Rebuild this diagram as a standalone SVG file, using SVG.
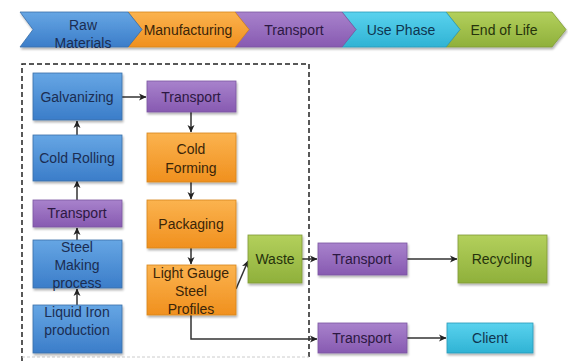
<svg xmlns="http://www.w3.org/2000/svg" width="568" height="362" viewBox="0 0 568 362">
<defs>
<linearGradient id="gBlue" x1="0" y1="0" x2="0" y2="1"><stop offset="0" stop-color="#66a6e4"/><stop offset="1" stop-color="#3b7dc9"/></linearGradient>
<linearGradient id="gOrange" x1="0" y1="0" x2="0" y2="1"><stop offset="0" stop-color="#fbb34f"/><stop offset="1" stop-color="#f0901e"/></linearGradient>
<linearGradient id="gPurple" x1="0" y1="0" x2="0" y2="1"><stop offset="0" stop-color="#a882cc"/><stop offset="1" stop-color="#875ab1"/></linearGradient>
<linearGradient id="gCyan" x1="0" y1="0" x2="0" y2="1"><stop offset="0" stop-color="#5ad2ee"/><stop offset="1" stop-color="#2fb3d4"/></linearGradient>
<linearGradient id="gGreen" x1="0" y1="0" x2="0" y2="1"><stop offset="0" stop-color="#b3d05c"/><stop offset="1" stop-color="#8fb03b"/></linearGradient>
<filter id="sh" x="-10%" y="-10%" width="130%" height="140%"><feDropShadow dx="1" dy="2" stdDeviation="1.2" flood-color="#000" flood-opacity="0.3"/></filter>
<marker id="ah" markerWidth="8" markerHeight="8" refX="7" refY="4" orient="auto" markerUnits="userSpaceOnUse"><path d="M0,0.5 L7.5,4 L0,7.5 L2,4 Z" fill="#222"/></marker>
</defs>
<style>
text{font-family:"Liberation Sans",Arial,sans-serif;font-size:14px;text-anchor:middle}
.blue{fill:url(#gBlue);stroke:#3a6fa8;stroke-width:0.8}
.orange{fill:url(#gOrange);stroke:#d7861c;stroke-width:0.8}
.purple{fill:url(#gPurple);stroke:#7a55a0;stroke-width:0.8}
.cyan{fill:url(#gCyan);stroke:#2a9ab8;stroke-width:0.8}
.green{fill:url(#gGreen);stroke:#7f9a35;stroke-width:0.8}
.box{filter:url(#sh)}
.tb{fill:#1b2d52}.to{fill:#3b2508}.tp{fill:#2c1842}.tc{fill:#0f3550}.tg{fill:#26330c}
.conn path,.conn line{fill:none;stroke:#333;stroke-width:1.5;marker-end:url(#ah)}
</style>

<g id="phase-bar" class="box">
<path class="green" d="M446,12 H552 L566,29.5 L552,47 H446 L460,29.5 Z"/>
<path class="cyan" d="M342,12 H446 L460,29.5 L446,47 H342 L356,29.5 Z"/>
<path class="purple" d="M235,12 H342 L356,29.5 L342,47 H235 L249,29.5 Z"/>
<path class="orange" d="M128,12 H235 L249,29.5 L235,47 H128 L142,29.5 Z"/>
<path class="blue" d="M20,12 H128 L142,29.5 L128,47 H20 L33,29.5 Z"/>
</g>
<g id="phase-labels">
<text class="tb" x="83" y="30">Raw</text>
<text class="tb" x="83" y="48">Materials</text>
<text class="to" x="188" y="35">Manufacturing</text>
<text class="tp" x="294" y="35">Transport</text>
<text class="tc" x="401" y="35">Use Phase</text>
<text class="tg" x="504" y="35">End of Life</text>
</g>

<path id="boundary" d="M309,357 V64 H22 V362" fill="none" stroke="#222" stroke-width="1.5" stroke-dasharray="5,3"/>
<line x1="22" y1="357" x2="309" y2="357" stroke="#ccc" stroke-width="1" stroke-dasharray="3,2"/>

<g id="connectors" class="conn">
<line x1="77" y1="135" x2="77" y2="121"/>
<line x1="77" y1="200" x2="77" y2="181"/>
<line x1="77" y1="240" x2="77" y2="228"/>
<line x1="77" y1="305" x2="77" y2="289"/>
<line x1="122" y1="97" x2="146" y2="97"/>
<line x1="191" y1="112" x2="191" y2="132"/>
<line x1="191" y1="182" x2="191" y2="199"/>
<line x1="191" y1="248" x2="191" y2="264"/>
<line x1="236" y1="289" x2="248" y2="261"/>
<line x1="302" y1="259" x2="317" y2="259"/>
<line x1="407" y1="259" x2="457" y2="259"/>
<path d="M191,315 V339 H317"/>
<line x1="407" y1="338" x2="446" y2="338"/>
</g>

<g id="galvanizing" class="box"><rect class="blue" x="33" y="73" width="89" height="47"/></g>
<g id="cold-rolling" class="box"><rect class="blue" x="33" y="135" width="89" height="46"/></g>
<g id="transport-1" class="box"><rect class="purple" x="33" y="200" width="89" height="27"/></g>
<g id="steel-making" class="box"><rect class="blue" x="33" y="240" width="89" height="48"/></g>
<g id="liquid-iron" class="box"><rect class="blue" x="33" y="305" width="89" height="48"/></g>
<g id="transport-2" class="box"><rect class="purple" x="147" y="81" width="89" height="31"/></g>
<g id="cold-forming" class="box"><rect class="orange" x="147" y="133" width="89" height="49"/></g>
<g id="packaging" class="box"><rect class="orange" x="147" y="200" width="89" height="48"/></g>
<g id="lgs-profiles" class="box"><rect class="orange" x="147" y="265" width="89" height="50"/></g>
<g id="waste" class="box"><rect class="green" x="248" y="235" width="54" height="48"/></g>
<g id="transport-3" class="box"><rect class="purple" x="318" y="243" width="89" height="32"/></g>
<g id="recycling" class="box"><rect class="green" x="458" y="235" width="89" height="48"/></g>
<g id="transport-4" class="box"><rect class="purple" x="318" y="323" width="89" height="30"/></g>
<g id="client" class="box"><rect class="cyan" x="447" y="323" width="86" height="30"/></g>

<g id="labels">
<text class="tb" x="77" y="102">Galvanizing</text>
<text class="tb" x="77" y="163">Cold Rolling</text>
<text class="tp" x="77" y="218">Transport</text>
<text class="tb" x="77" y="252">Steel</text>
<text class="tb" x="77" y="270">Making</text>
<text class="tb" x="77" y="288">process</text>
<text class="tb" x="77" y="317">Liquid Iron</text>
<text class="tb" x="77" y="335">production</text>
<text class="tp" x="191" y="102">Transport</text>
<text class="to" x="191" y="154">Cold</text>
<text class="to" x="191" y="173">Forming</text>
<text class="to" x="191" y="229">Packaging</text>
<text class="to" x="191" y="278">Light Gauge</text>
<text class="to" x="191" y="296">Steel</text>
<text class="to" x="191" y="314">Profiles</text>
<text class="tg" x="275" y="264">Waste</text>
<text class="tp" x="362" y="264">Transport</text>
<text class="tg" x="502" y="264">Recycling</text>
<text class="tp" x="362" y="343">Transport</text>
<text class="tc" x="490" y="343">Client</text>
</g>
</svg>
